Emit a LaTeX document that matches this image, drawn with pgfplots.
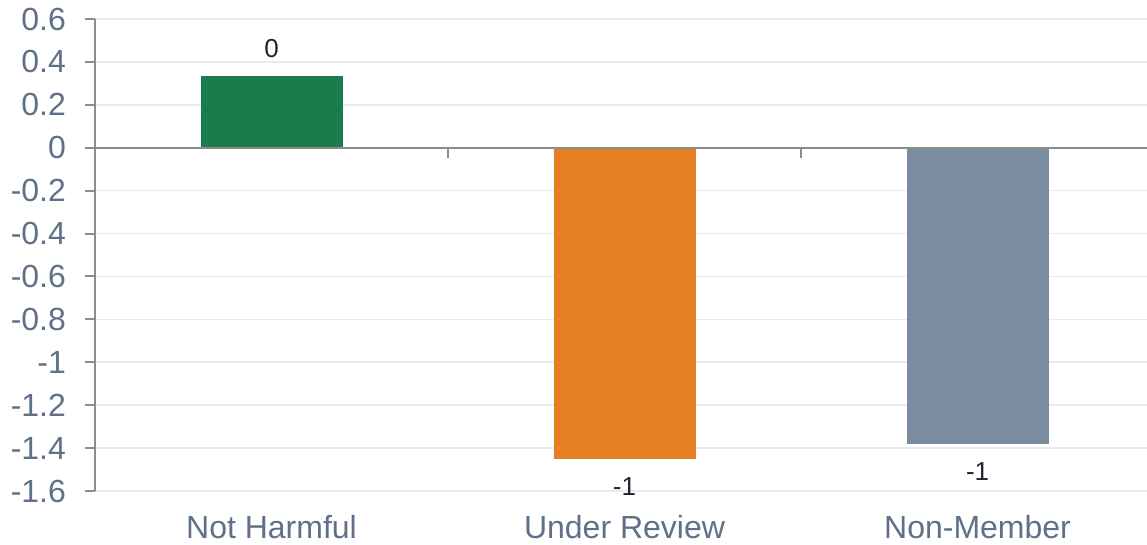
\documentclass[border=0pt]{standalone}
\usepackage{pgfplots}
\pgfplotsset{compat=1.18}
\usepackage{fontspec}
\setmainfont{Liberation Sans}
\definecolor{tickc}{HTML}{617089}
\definecolor{gridc}{HTML}{E6EAF1}
\definecolor{axc}{HTML}{8C8C8C}
\definecolor{cgreen}{HTML}{1B7C4B}
\definecolor{corange}{HTML}{E67F22}
\definecolor{cslate}{HTML}{7A8CA0}
\definecolor{lblc}{HTML}{1F2433}
\begin{document}
\begin{tikzpicture}
\useasboundingbox (0,0) rectangle (573.5pt,272.5pt);
\begin{axis}[
  at={(47.5pt,27pt)}, anchor=south west,
  scale only axis, width=526pt, height=236pt,
  xmin=-0.5, xmax=2.48,
  ymin=-1.6, ymax=0.6,
  ytick={-1.6,-1.4,...,0.61},
  xtick={0,1,2},
  xticklabels={Not Harmful,Under Review,Non-Member},
  axis x line*=bottom,
  axis y line*=left,
  x axis line style={draw=none},
  y axis line style={draw=axc, line width=1pt},
  xtick style={draw=none},
  ytick style={draw=axc, line width=1pt},
  tick align=outside,
  major tick length=5pt,
  ymajorgrids,
  grid style={draw=gridc, line width=0.8pt},
  /pgf/number format/assume math mode=true,
  yticklabel style={font=\fontsize{16}{18}\selectfont, text=tickc, xshift=-6pt},
  xticklabel style={font=\fontsize{16}{18}\selectfont, text=tickc, yshift=-3.5pt},
  y tick label style={/pgf/number format/fixed},
  ybar, bar width=71pt, bar shift=0pt,
  nodes near coords,
  nodes near coords style={font=\fontsize{13}{15}\selectfont, text=lblc, inner ysep=9pt,
    /pgf/number format/fixed, /pgf/number format/precision=0},
  clip=false,
]
\addplot[fill=cgreen, draw=none] coordinates {(0,0.335)};
\addplot[fill=corange, draw=none] coordinates {(1,-1.45)};
\addplot[fill=cslate, draw=none] coordinates {(2,-1.38)};
\draw[axc, line width=1pt] (axis cs:-0.5,0) -- (axis cs:2.48,0);
\draw[axc, line width=1pt] (axis cs:0.5,0) -- ([yshift=-5pt]axis cs:0.5,0);
\draw[axc, line width=1pt] (axis cs:1.5,0) -- ([yshift=-5pt]axis cs:1.5,0);
\end{axis}
\end{tikzpicture}
\end{document}
